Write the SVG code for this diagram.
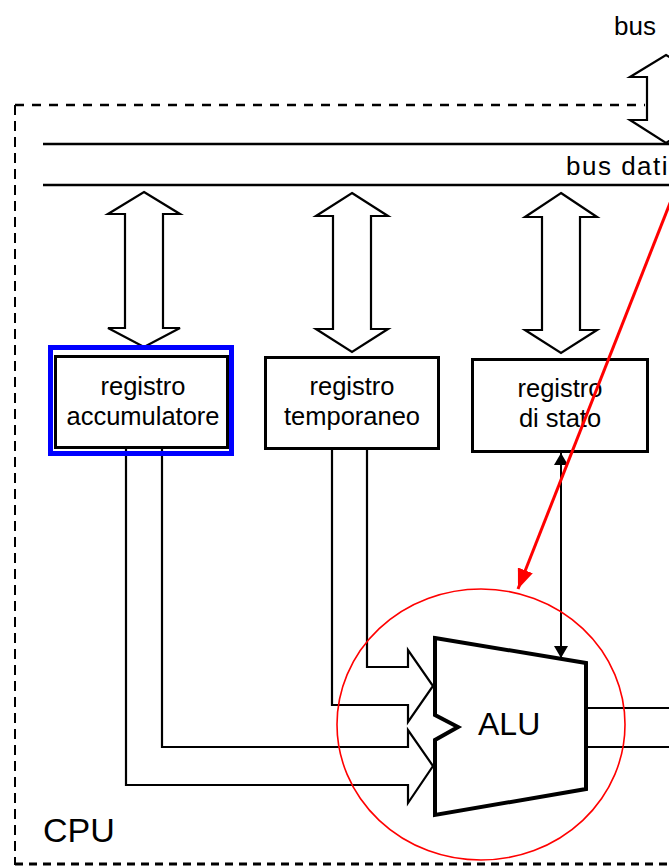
<svg xmlns="http://www.w3.org/2000/svg" width="669" height="868" viewBox="0 0 669 868">
<style>
text{font-family:"Liberation Sans",Arial,sans-serif;fill:#000}
.box{fill:#fff;stroke:#000;stroke-width:3}
.fat{fill:#fff;stroke:#000;stroke-width:2.2;stroke-linejoin:miter}
.wire{fill:none;stroke:#000;stroke-width:2}
.lbl{font-size:25.5px;text-anchor:middle}
</style>
<defs>
<marker id="tri" viewBox="0 0 12 18" refX="12" refY="9" markerWidth="12" markerHeight="18" markerUnits="userSpaceOnUse" orient="auto">
<path d="M0,2 L12,9 L0,16 Z" fill="#000"/>
</marker>
<marker id="redhead" viewBox="0 0 20 16" refX="20" refY="8" markerWidth="20" markerHeight="16" markerUnits="userSpaceOnUse" orient="auto">
<path d="M0,0 L20,8 L0,16 Z" fill="#f00"/>
</marker>
</defs>
<rect width="669" height="868" fill="#fff"/>

<g id="cpu-border">
<path d="M15,105 H645" fill="none" stroke="#000" stroke-width="2.5" stroke-dasharray="9 8"/>
<path d="M15,105 V865" fill="none" stroke="#000" stroke-width="2" stroke-dasharray="10 6"/>
<path d="M15,864 H669" fill="none" stroke="#000" stroke-width="3" stroke-dasharray="8 6"/>
<text x="43" y="842" font-size="34">CPU</text>
</g>

<g id="bus-indirizzi">
<path class="fat" d="M666,55 L702,77 L685,77 L685,120 L702,120 L666,143 L630,120 L647,120 L647,77 L630,77 Z"/>
<text x="614" y="35" font-size="26">bus</text>
</g>

<g id="bus-dati">
<line x1="43" y1="144" x2="669" y2="144" stroke="#000" stroke-width="2.5"/>
<line x1="43" y1="185" x2="669" y2="185" stroke="#000" stroke-width="2.5"/>
<text x="566" y="175" font-size="26" letter-spacing="1.5">bus dati</text>
</g>

<g id="connectors">
<path class="fat" d="M144,192 L180,214 L163,214 L163,328 L180,328 L144,347 L108,328 L125,328 L125,214 L108,214 Z"/>
<path class="fat" d="M352,193 L388,216 L371,216 L371,329 L388,329 L352,352 L316,329 L333,329 L333,216 L316,216 Z"/>
<path class="fat" d="M561,193 L597,217 L580,217 L580,330 L597,330 L561,353 L525,330 L542,330 L542,217 L525,217 Z"/>
<path class="fat" d="M367,449 V667 H408 V650 L433,686 L408,722 V705 H332 V449"/>
<path class="fat" d="M162,449 V747 H408 V730 L433,766 L408,803 V785 H126 V449"/>
<line x1="561" y1="470" x2="561" y2="640" stroke="#000" stroke-width="2"/>
<line x1="561" y1="470" x2="561" y2="453" stroke="#000" stroke-width="2" marker-end="url(#tri)"/>
<line x1="561" y1="640" x2="561" y2="658" stroke="#000" stroke-width="2" marker-end="url(#tri)"/>
<line x1="586" y1="708" x2="669" y2="708" stroke="#000" stroke-width="2"/>
<line x1="586" y1="747" x2="669" y2="747" stroke="#000" stroke-width="2"/>
</g>

<g id="registro-accumulatore">
<rect x="55.5" y="356.5" width="172" height="91" class="box"/>
<rect x="50.5" y="347.5" width="181" height="106" fill="none" stroke="#0000ff" stroke-width="5"/>
<text class="lbl" x="143" y="395">registro</text>
<text class="lbl" x="143" y="424.5">accumulatore</text>
</g>

<g id="registro-temporaneo">
<rect x="265.5" y="357.5" width="173" height="91" class="box"/>
<text class="lbl" x="352" y="395">registro</text>
<text class="lbl" x="352" y="425">temporaneo</text>
</g>

<g id="registro-stato">
<rect x="472.5" y="359.5" width="175" height="92" class="box"/>
<text class="lbl" x="560" y="397">registro</text>
<text class="lbl" x="560" y="426.5">di stato</text>
</g>

<g id="alu">
<path d="M435,638 L586,663 L586,789 L435,815 L435,740 L458,727 L435,715 Z" fill="#fff" stroke="#000" stroke-width="4" stroke-linejoin="miter"/>
<text x="478" y="735" font-size="32">ALU</text>
</g>

<g id="highlight">
<ellipse cx="481" cy="724.5" rx="144" ry="135.5" fill="none" stroke="#f00" stroke-width="1.6"/>
<line x1="672" y1="198" x2="518" y2="589" stroke="#f00" stroke-width="3" marker-end="url(#redhead)"/>
</g>
</svg>
